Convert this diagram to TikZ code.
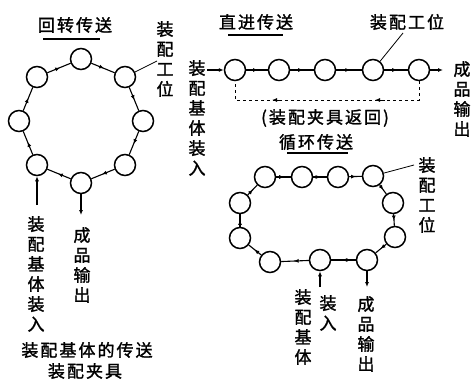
\documentclass[tikz,border=0pt]{standalone}
\usepackage{fontspec}
\newfontfamily\cjk[LetterSpace=12,FakeBold=1.5]{Noto Sans CJK SC}
\usetikzlibrary{decorations.markings,arrows.meta}
\begin{document}
\begin{tikzpicture}[x=1pt,y=-1pt,
  circ/.style={circle,draw,line width=1.5pt,minimum size=21pt,inner sep=0pt},
  flow/.style={line width=1.1pt,postaction={decorate},
    decoration={markings,mark=at position 0.55 with {\arrow{Latex[length=5pt,width=4pt]}}}},
  arr/.style={line width=1.1pt,-{Latex[length=5pt,width=4pt]}},
  lead/.style={line width=0.8pt},
  txt/.style={font=\cjk\fontsize{17}{20}\selectfont,inner sep=0pt,align=center},
  uline/.style={line width=1.3pt}]
\useasboundingbox (0,0) rectangle (471,380);
% ---------- rotary ----------
\node[circ] (r1) at (81,59) {};
\node[circ] (r2) at (125,77) {};
\node[circ] (r3) at (143,121) {};
\node[circ] (r4) at (125,165) {};
\node[circ] (r5) at (81,183) {};
\node[circ] (r6) at (37,165) {};
\node[circ] (r7) at (19,121) {};
\node[circ] (r8) at (37,77) {};
\foreach \a/\b in {r6/r7,r7/r8,r8/r1,r1/r2,r2/r3,r3/r4,r4/r5,r5/r6}
  \draw[flow] (\a) -- (\b);
\node[txt] (t1) at (75,25) {回转传送};
\draw[uline] (43,39) -- (100,39);
\node[txt] (w1) at (165,59) {装\\配\\工\\位};
\coordinate (w1c) at (157,61);
\draw[lead] (r2) -- (w1c);
\coordinate (inL) at (37,205);
\draw[arr] (inL) -- (r6);
\node[txt] (inLt) at (36,274) {装\\配\\基\\体\\装\\入};
\coordinate (outL) at (81,215);
\draw[arr] (r5) -- (outL);
\node[txt] (outLt) at (82,265) {成\\品\\输\\出};
\node[txt] (cap1) at (87,350) {装配基体的传送};
\node[txt] (cap2) at (85,371) {装配夹具};
% ---------- linear ----------
\node[txt] (inM) at (197,118) {装\\配\\基\\体\\装\\入};
\node[circ] (l1) at (235,70) {};
\node[circ] (l2) at (279,70) {};
\node[circ] (l3) at (325,70) {};
\node[circ] (l4) at (373,70) {};
\node[circ] (l5) at (419,70) {};
\coordinate (linS) at (207,70);
\draw[arr] (linS) -- (l1);
\foreach \a/\b in {l1/l2,l2/l3,l3/l4,l4/l5}
  \draw[flow] (\a) -- (\b);
\coordinate (loutE) at (443,70);
\draw[arr] (l5) -- (loutE);
\node[txt] (outM) at (462,99) {成\\品\\输\\出};
\coordinate (d1) at (419,100);
\coordinate (d2) at (235,100);
\draw[line width=1pt,dashed] (l5) -- (d1) -- (d2) -- (l1);
\draw[line width=1pt,-{Latex[length=5pt,width=4pt]}] (385,100) -- (375,100);
\draw[line width=1pt,-{Latex[length=5pt,width=4pt]}] (282,100) -- (272,100);
\node[txt] (ret) at (325,118) {(装配夹具返回)};
\node[txt] (t2) at (256,22) {直进传送};
\draw[uline] (228,35) -- (283,35);
\node[txt] (w2) at (407,22) {装配工位};
\coordinate (w2c) at (403,33);
\draw[lead] (w2c) -- (l4);
% ---------- loop ----------
\node[txt] (t3) at (316,142) {循环传送};
\draw[uline] (287,153) -- (348,153);
\node[circ] (c1) at (265,177) {};
\node[circ] (c2) at (302,177) {};
\node[circ] (c3) at (338,177) {};
\node[circ] (c4) at (373,176) {};
\node[circ] (c5) at (393,203) {};
\node[circ] (c6) at (395,237) {};
\node[circ] (c7) at (367,260) {};
\node[circ] (c8) at (320,260) {};
\node[circ] (c9) at (270,262) {};
\node[circ] (c10) at (240,238) {};
\node[circ] (c11) at (240,203) {};
\foreach \a/\b in {c1/c2,c2/c3,c3/c4,c4/c5,c5/c6,c6/c7,c7/c8,c8/c9,c9/c10,c10/c11,c11/c1}
  \draw[flow] (\a) -- (\b);
\node[txt] (w3) at (427,195) {装\\配\\工\\位};
\coordinate (w3c) at (414,165);
\draw[lead] (w3c) -- (c4);
\coordinate (cin) at (320,287);
\draw[arr] (cin) -- (c8);
\node[txt] (cin1) at (303,327) {装\\配\\基\\体};
\node[txt] (cin2) at (328,313) {装\\入};
\coordinate (cout) at (367,287);
\draw[arr] (c7) -- (cout);
\node[txt] (coutt) at (366,334) {成\\品\\输\\出};
\end{tikzpicture}
\end{document}
